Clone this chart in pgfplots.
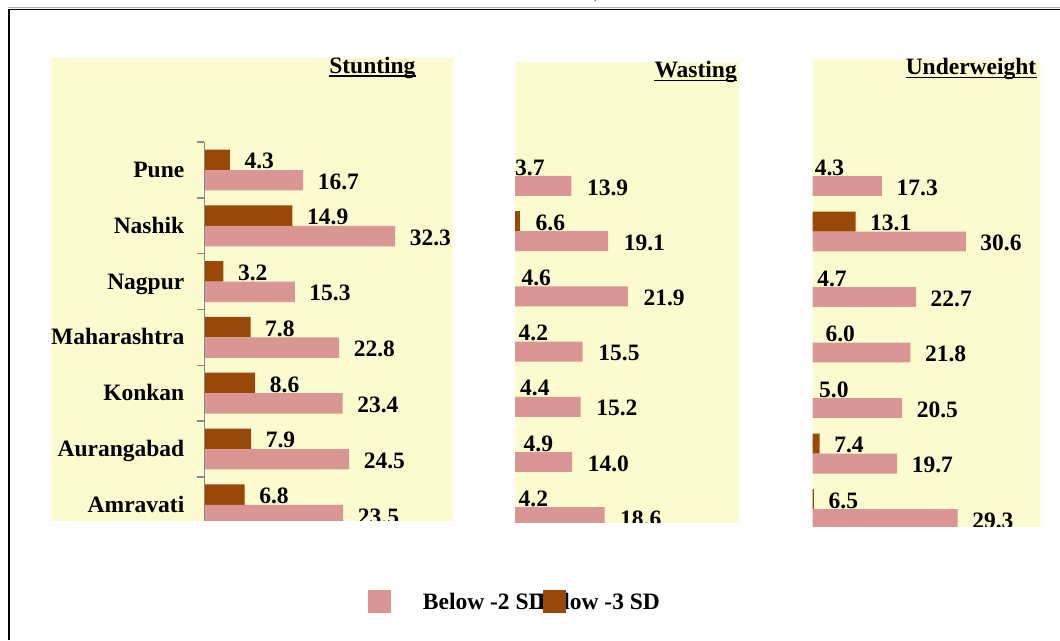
\documentclass[border=0pt]{standalone}
\usepackage{pgfplots}
\pgfplotsset{compat=1.18}
\usepackage{pgfplotstable}
\usepackage{fontspec}
\setmainfont{Liberation Serif}

\definecolor{sdpink}{HTML}{D99694}
\definecolor{sdbrown}{HTML}{984807}
\definecolor{panelbg}{HTML}{FCFBD0}
\definecolor{axisgray}{HTML}{8A8A8A}
\newcommand{\chartfont}{\fontsize{23.5}{27}\selectfont\bfseries}

% idx: 0 Pune, 1 Nashik, 2 Nagpur, 3 Maharashtra, 4 Konkan, 5 Aurangabad, 6 Amravati
\pgfplotstableread{
idx sd3 sd2
0 4.3 16.7
1 14.9 32.3
2 3.2 15.3
3 7.8 22.8
4 8.6 23.4
5 7.9 24.5
6 6.8 23.5
}\stunting
\pgfplotstableread{
idx sd3 sd2
0 3.7 13.9
1 6.6 19.1
2 4.6 21.9
3 4.2 15.5
4 4.4 15.2
5 4.9 14.0
6 4.2 18.6
}\wasting
\pgfplotstableread{
idx sd3 sd2
0 4.3 17.3
1 13.1 30.6
2 4.7 22.7
3 6.0 21.8
4 5.0 20.5
5 7.4 19.7
6 6.5 29.3
}\underweight

\pgfplotsset{
  panel/.style={
    scale only axis, anchor=south west,
    y dir=reverse, clip=false,
    axis background/.style={fill=panelbg},
    axis line style={draw=none},
    xtick=\empty, ytick=\empty,
    major tick length=0pt,
    /pgf/number format/assume math mode=true,
    point meta=x,
    nodes near coords={\pgfmathprintnumber[fixed,fixed zerofill,precision=1]{\pgfplotspointmeta}},
    every node near coord/.append style={anchor=west, inner sep=0pt, xshift=14.5pt, yshift=-1.5pt, font=\chartfont, text=black},
  },
  % the two bars of a category sit side by side, -3 SD above -2 SD
  upper/.style={xbar, bar width=#1, bar shift=0pt, fill=sdbrown, draw=none},
  lower/.style={xbar, bar width=#1, bar shift=0pt, fill=sdpink, draw=none},
}

\begin{document}
\begin{tikzpicture}
\path[use as bounding box] (0pt,0pt) rectangle (1060pt,640pt);

% outer frame
\draw[gray!60, line width=1pt] (8pt,632pt) -- (1060pt,632pt);
\draw[black, line width=1.8pt] (9pt,0pt) -- (9pt,630.4pt) -- (1060pt,630.4pt);
\node[font=\chartfont, anchor=south, inner sep=0pt] at (598pt,638.5pt) {)};

% Stunting
\begin{scope}
\clip (51pt,119pt) rectangle (453pt,582pt);
\begin{axis}[panel, at={(51pt,119pt)}, width=402pt, height=463pt,
  xmin=-26.0, xmax=42.1, ymin=-2.007, ymax=6.29,
  ytick={0,...,6},
  yticklabels={Pune,Nashik,Nagpur,Maharashtra,Konkan,Aurangabad,Amravati},
  yticklabel style={font=\chartfont, anchor=base east, inner sep=0pt, xshift=133.5pt, yshift=-7.5pt}]
\addplot[upper=0.367] table[x=sd3, y expr=\thisrow{idx}-0.1835]{\stunting};
\addplot[lower=0.367] table[x=sd2, y expr=\thisrow{idx}+0.1835]{\stunting};
\draw[axisgray, line width=1.3pt] (axis cs:0,-0.5) -- (axis cs:0,6.5);
\draw[axisgray, line width=1.3pt]
  (axis cs:0,-0.5) -- ++(-7pt,0pt) (axis cs:0,0.5) -- ++(-7pt,0pt)
  (axis cs:0,1.5) -- ++(-7pt,0pt) (axis cs:0,2.5) -- ++(-7pt,0pt)
  (axis cs:0,3.5) -- ++(-7pt,0pt) (axis cs:0,4.5) -- ++(-7pt,0pt)
  (axis cs:0,5.5) -- ++(-7pt,0pt);
\end{axis}
\end{scope}

% Wasting: the value axis starts at 0, the panel shows it from 5.9 on
\begin{scope}
\clip (515pt,117pt) rectangle (739pt,578pt);
\begin{axis}[panel, at={(473.4pt,117pt)}, width=265.8pt, height=461pt,
  xmin=0, xmax=37.7, ymin=-2.065, ymax=6.286,
  every node near coord/.append style={xshift=1pt}]
\addplot[upper=0.362] table[x=sd3, y expr=\thisrow{idx}-0.181]{\wasting};
\addplot[lower=0.362] table[x=sd2, y expr=\thisrow{idx}+0.181]{\wasting};
\end{axis}
\end{scope}

% Underweight: the value axis starts at 0, the panel shows it from 6.3 on
\begin{scope}
\clip (812.7pt,113pt) rectangle (1040.7pt,580pt);
\begin{axis}[panel, at={(773pt,113pt)}, width=267.75pt, height=467pt,
  xmin=0, xmax=42.5, ymin=-2.09, ymax=6.324]
\addplot[upper=0.36] table[x=sd3, y expr=\thisrow{idx}-0.18]{\underweight};
\addplot[lower=0.36] table[x=sd2, y expr=\thisrow{idx}+0.18]{\underweight};
\end{axis}
\end{scope}

% panel titles
\node[font=\chartfont, anchor=base east, inner sep=0pt] (t1) at (415.7pt,566.7pt) {Stunting};
\node[font=\chartfont, anchor=base east, inner sep=0pt] (t2) at (737pt,562pt) {Wasting};
\node[font=\chartfont, anchor=base east, inner sep=0pt] (t3) at (1036.5pt,565pt) {Underweight};
\foreach \t in {t1,t2,t3}
  \draw[black, line width=1.6pt] ([yshift=-2.5pt]\t.base west) -- ([yshift=-2.5pt]\t.base east);

% legend
\fill[sdpink] (367.7pt,27.3pt) rectangle (390.7pt,50pt);
\node[font=\chartfont, anchor=base west, inner sep=0pt] at (422.7pt,30.7pt) {Below -2 SD};
\node[font=\chartfont, anchor=base west, inner sep=0pt] at (537pt,30.7pt) {Below -3 SD};
\fill[sdbrown] (543.3pt,27.3pt) rectangle (565.7pt,50pt);
\end{tikzpicture}
\end{document}
